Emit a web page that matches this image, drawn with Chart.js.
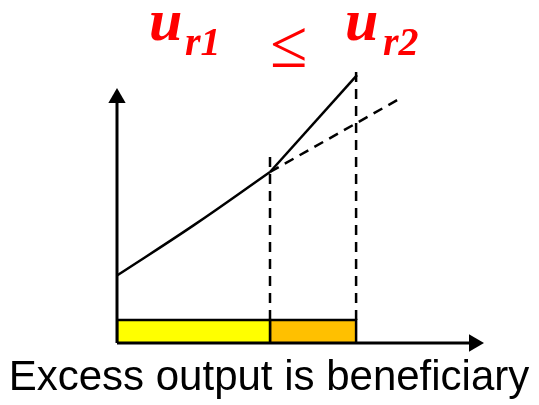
<!DOCTYPE html>
<html>
<head>
<meta charset="utf-8">
<script src="https://cdn.jsdelivr.net/npm/chart.js@4/dist/chart.umd.min.js"></script>
<style>
  html, body { margin: 0; padding: 0; background: #fff; }
  canvas { display: block; }
</style>
</head>
<body>
<canvas id="myChart" width="539" height="405"></canvas>
<script>
// output along x, utility along y (arbitrary units)
const curveX = [0, 2.55, 5.1];
const curveY = [2.25, 3.92, 5.7];

const steepX = [5.1, 8.0];        // solid part after the kink
const steepY = [5.7, 8.93];

const extX = [5.1, 9.47];         // dashed continuation of the first slope
const extY = [5.7, 8.17];

const guideX = [5.1, 7.97];       // dashed verticals
const guideLow = [0.77, 0.77];
const guideHigh = [6.43, 9.2];

const barStart = [0, 5.1];        // output bands
const barEnd = [5.1, 7.97];
const barHeight = 0.77;
const barColors = ['#ffff00', '#ffc000'];

const xAxisEnd = 11.9;
const yAxisEnd = 8.17;

const bottomLabel = 'Excess output is beneficiary';

function pts(xs, ys) {
  return xs.map((x, i) => ({ x: x, y: ys[i] }));
}

const datasets = [];

// bars as closed polygons filled to y = 0
barStart.forEach((s, i) => {
  datasets.push({
    data: pts([s, s, barEnd[i], barEnd[i]], [0, barHeight, barHeight, 0]),
    showLine: true,
    fill: 'origin',
    backgroundColor: barColors[i],
    borderColor: '#000',
    borderWidth: 2.5,
    pointRadius: 0,
    order: 5
  });
});

// dashed verticals
guideX.forEach((gx, i) => {
  datasets.push({
    data: pts([gx, gx], [guideLow[i], guideHigh[i]]),
    showLine: true,
    borderColor: '#000',
    borderWidth: 2.5,
    borderDash: [10, 7],
    pointRadius: 0,
    clip: false,
    order: 4
  });
});

// dashed extension
datasets.push({
  data: pts(extX, extY),
  showLine: true,
  borderColor: '#000',
  borderWidth: 2.5,
  borderDash: [10, 7],
  pointRadius: 0,
  order: 3
});

// curve and steep part
datasets.push({
  data: pts(curveX, curveY),
  showLine: true,
  borderColor: '#000',
  borderWidth: 2.5,
  tension: 0.4,
  pointRadius: 0,
  order: 2
});
datasets.push({
  data: pts(steepX, steepY),
  showLine: true,
  borderColor: '#000',
  borderWidth: 2.5,
  pointRadius: 0,
  order: 2
});

// axes with arrow heads
datasets.push({
  data: pts([0, xAxisEnd], [0, 0]),
  showLine: true,
  borderColor: '#000',
  borderWidth: 3,
  pointStyle: 'triangle',
  pointRadius: [0, 10],
  pointRotation: [0, 90],
  pointBackgroundColor: '#000',
  pointBorderWidth: 0,
  clip: false,
  order: 1
});
datasets.push({
  data: pts([0, 0], [0, yAxisEnd]),
  showLine: true,
  borderColor: '#000',
  borderWidth: 3,
  pointStyle: 'triangle',
  pointRadius: [0, 10],
  pointBackgroundColor: '#000',
  pointBorderWidth: 0,
  clip: false,
  order: 1
});

// red title with subscripts + caption under the axis
const textPlugin = {
  id: 'texts',
  afterDraw(chart) {
    const c = chart.ctx;
    c.save();
    c.textBaseline = 'alphabetic';
    c.textAlign = 'left';
    c.fillStyle = '#ff0000';
    c.font = 'italic bold 60px "Liberation Serif"';
    c.fillText('u', 149, 40);
    c.fillText('u', 345, 40);
    c.font = 'italic bold 40px "Liberation Serif"';
    c.fillText('r1', 185, 55);
    c.fillText('r2', 383, 55);
    c.font = '68px "Liberation Serif"';
    c.fillText('\u2264', 270, 67);

    c.fillStyle = '#000';
    c.textAlign = 'center';
    c.font = '42px "Liberation Sans"';
    c.fillText(bottomLabel, 269, 390);
    c.restore();
  }
};

new Chart(document.getElementById('myChart').getContext('2d'), {
  type: 'scatter',
  data: { datasets: datasets },
  options: {
    responsive: false,
    animation: false,
    layout: { padding: { left: 117, right: 62, top: 67, bottom: 62 } },
    plugins: {
      legend: { display: false },
      tooltip: { enabled: false }
    },
    scales: {
      x: { type: 'linear', min: 0, max: 12, display: false },
      y: { type: 'linear', min: 0, max: 9.2, display: false }
    }
  },
  plugins: [textPlugin]
});
</script>
</body>
</html>
